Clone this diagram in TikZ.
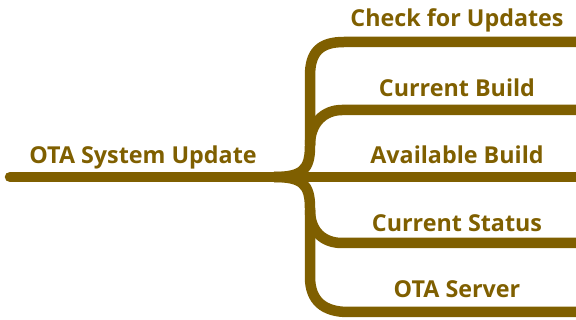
\documentclass[tikz,border=0pt]{standalone}
\usepackage{fontspec}
\setmainfont{Open Sans}
\usepackage{tikz}
\usetikzlibrary{positioning}

\definecolor{otabrown}{RGB}{127,95,0}

\begin{document}
\begin{tikzpicture}[x=1pt,y=-1pt,
 branch/.style={draw=otabrown,line width=10.5pt},
 lbl/.style={anchor=base,text=otabrown,font=\fontsize{23.3}{25}\selectfont\bfseries,inner sep=0pt}
]
\useasboundingbox (0,0) rectangle (576,320);

% line ends
\coordinate (rootstart) at (10,177);
\coordinate (fork) at (274,177);
\coordinate (e1) at (576,42);
\coordinate (e2) at (576,110);
\coordinate (e3) at (576,177);
\coordinate (e4) at (576,243);
\coordinate (e5) at (576,312);

% branches
\draw[branch,line cap=round] (rootstart) -- (fork);
\draw[branch] (fork) -- (e3);
\draw[branch] (fork) .. controls +(28,0) and +(0,24) .. (310,146) -- (310,76)
  .. controls +(0,-24) and +(-24,0) .. (344,42) -- (e1);
\draw[branch] (310,145) .. controls +(0,-22) and +(-18,0) .. (342,110) -- (e2);
\draw[branch] (fork) .. controls +(28,0) and +(0,-24) .. (310,208) -- (310,277)
  .. controls +(0,24) and +(-24,0) .. (348,312) -- (e5);
\draw[branch] (310,210) .. controls +(0,22) and +(-18,0) .. (342,243) -- (e4);

% labels
\node[lbl] (root) at (143,164) {OTA System Update};
\node[lbl] (check) at (457,27) {Check for Updates};
\node[lbl] (curbuild) at (457,97) {Current Build};
\node[lbl] (avbuild) at (457,164) {Available Build};
\node[lbl] (status) at (457,232) {Current Status};
\node[lbl] (server) at (457,298) {OTA Server};
\end{tikzpicture}
\end{document}
